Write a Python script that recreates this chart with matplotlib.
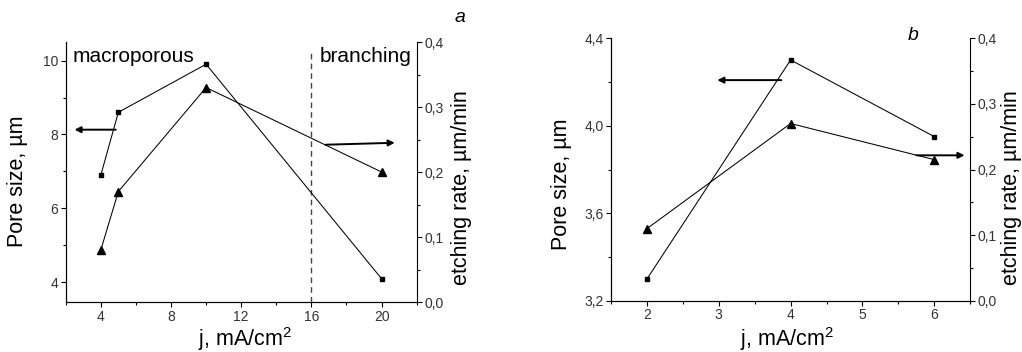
import matplotlib
matplotlib.use("Agg")
import matplotlib.pyplot as plt
from matplotlib.ticker import FixedLocator, MultipleLocator, FuncFormatter

plt.rcParams['font.family'] = ['Liberation Sans', 'DejaVu Sans']
plt.rcParams['mathtext.fontset'] = 'custom'
plt.rcParams['mathtext.rm'] = 'Liberation Sans'
plt.rcParams['mathtext.it'] = 'Liberation Sans:italic'

# ---- data, panel a ----
j_a = [4, 5, 10, 20]
pore_a = [6.9, 8.6, 9.9, 4.1]
rate_a = [0.08, 0.17, 0.33, 0.20]
# ---- data, panel b ----
j_b = [2, 4, 6]
pore_b = [3.30, 4.30, 3.95]
rate_b = [0.11, 0.27, 0.215]

xticks_a = [4, 8, 12, 16, 20]
yticks_a = [4, 6, 8, 10]
xticks_b = [2, 3, 4, 5, 6]
yticks_b = [3.2, 3.6, 4.0, 4.4]
rticks = [0.0, 0.1, 0.2, 0.3, 0.4]

comma1 = FuncFormatter(lambda v, p: f"{v:.1f}".replace('.', ','))
intfmt = FuncFormatter(lambda v, p: f"{v:g}")

fig = plt.figure(figsize=(10.22, 3.52), dpi=100)
fig.patch.set_facecolor('white')

tick_col = '#333333'


def style(ax, right=False):
    ax.tick_params(which='major', direction='out', length=3.6, width=0.8,
                   labelsize=10, colors='black', labelcolor=tick_col, pad=1.8)
    ax.tick_params(which='minor', direction='out', length=2.2, width=0.8,
                   colors='black')
    for s in ax.spines.values():
        s.set_linewidth(0.8)
    ax.spines['top'].set_visible(False)
    if not right:
        ax.spines['right'].set_visible(False)


# ================= panel a =================
axa = fig.add_axes([0.0643, 0.142, 0.3434, 0.7386])
axa.plot(j_a, pore_a, color='black', lw=0.75, marker='s', ms=3.5, zorder=3)
axa.set_xlim(2, 22)
axa.set_ylim(3.47, 10.5)
axa.xaxis.set_major_locator(FixedLocator(xticks_a))
axa.xaxis.set_minor_locator(MultipleLocator(2))
axa.yaxis.set_major_locator(FixedLocator(yticks_a))
axa.yaxis.set_minor_locator(MultipleLocator(1))
axa.xaxis.set_major_formatter(intfmt)
axa.yaxis.set_major_formatter(intfmt)
style(axa)
axa.axvline(16, ymin=0, ymax=0.96, color='#444444', lw=1.0, ls=(0, (4, 3)))
axa.text(2.4, 10.1, 'macroporous', fontsize=15, va='center', ha='left')
axa.text(16.5, 10.1, 'branching', fontsize=15, va='center', ha='left')
axa.annotate('', xy=(2.5, 8.13), xytext=(4.85, 8.13),
             arrowprops=dict(arrowstyle='-|>', lw=1.4, color='black',
                             mutation_scale=9, shrinkA=0, shrinkB=0))

axa2 = axa.twinx()
axa2.plot(j_a, rate_a, color='black', lw=0.75, marker='^', ms=5.5, zorder=3)
axa2.set_ylim(0, 0.4)
axa2.yaxis.set_major_locator(FixedLocator(rticks))
axa2.yaxis.set_minor_locator(MultipleLocator(0.05))
axa2.yaxis.set_major_formatter(comma1)
style(axa2, right=True)
axa2.annotate('', xy=(20.75, 0.245), xytext=(16.8, 0.242),
              arrowprops=dict(arrowstyle='-|>', lw=1.4, color='black',
                              mutation_scale=9, shrinkA=0, shrinkB=0))

fig.text(18 / 1022, 1 - 181.5 / 352, 'Pore size, µm', rotation=90,
         fontsize=15.5, ha='center', va='center')
fig.text(462 / 1022, 1 - 187.5 / 352, 'etching rate, µm/min', rotation=90,
         fontsize=15.5, ha='center', va='center')
fig.text(245 / 1022, 1 - 346 / 352, r'j, mA/cm$^2$', fontsize=15.5,
         ha='center', va='baseline')
fig.text(460 / 1022, 1 - 18 / 352, 'a', fontsize=14, style='italic',
         ha='center', va='center')

# ================= panel b =================
axb = fig.add_axes([0.5978, 0.1449, 0.3516, 0.747])
axb.plot(j_b, pore_b, color='black', lw=0.75, marker='s', ms=3.5, zorder=3)
axb.set_xlim(1.5, 6.5)
axb.set_ylim(3.2, 4.4)
axb.xaxis.set_major_locator(FixedLocator(xticks_b))
axb.xaxis.set_minor_locator(MultipleLocator(0.5))
axb.yaxis.set_major_locator(FixedLocator(yticks_b))
axb.yaxis.set_minor_locator(MultipleLocator(0.2))
axb.xaxis.set_major_formatter(intfmt)
axb.yaxis.set_major_formatter(comma1)
style(axb)
axb.annotate('', xy=(2.98, 4.208), xytext=(3.87, 4.208),
             arrowprops=dict(arrowstyle='-|>', lw=1.4, color='black',
                             mutation_scale=9, shrinkA=0, shrinkB=0))

axb2 = axb.twinx()
axb2.plot(j_b, rate_b, color='black', lw=0.75, marker='^', ms=5.5, zorder=3)
axb2.set_ylim(0, 0.4)
axb2.yaxis.set_major_locator(FixedLocator(rticks))
axb2.yaxis.set_minor_locator(MultipleLocator(0.05))
axb2.yaxis.set_major_formatter(comma1)
style(axb2, right=True)
axb2.annotate('', xy=(6.42, 0.2216), xytext=(5.75, 0.2216),
              arrowprops=dict(arrowstyle='-|>', lw=1.4, color='black',
                              mutation_scale=9, shrinkA=0, shrinkB=0))

fig.text(561 / 1022, 1 - 184 / 352, 'Pore size, µm', rotation=90,
         fontsize=15.5, ha='center', va='center')
fig.text(1011.5 / 1022, 1 - 187.5 / 352, 'etching rate, µm/min', rotation=90,
         fontsize=15.5, ha='center', va='center')
fig.text(787 / 1022, 1 - 346 / 352, r'j, mA/cm$^2$', fontsize=15.5,
         ha='center', va='baseline')
fig.text(913 / 1022, 1 - 35 / 352, 'b', fontsize=14, style='italic',
         ha='center', va='center')

fig.savefig('out.png', dpi=100, facecolor='white')
